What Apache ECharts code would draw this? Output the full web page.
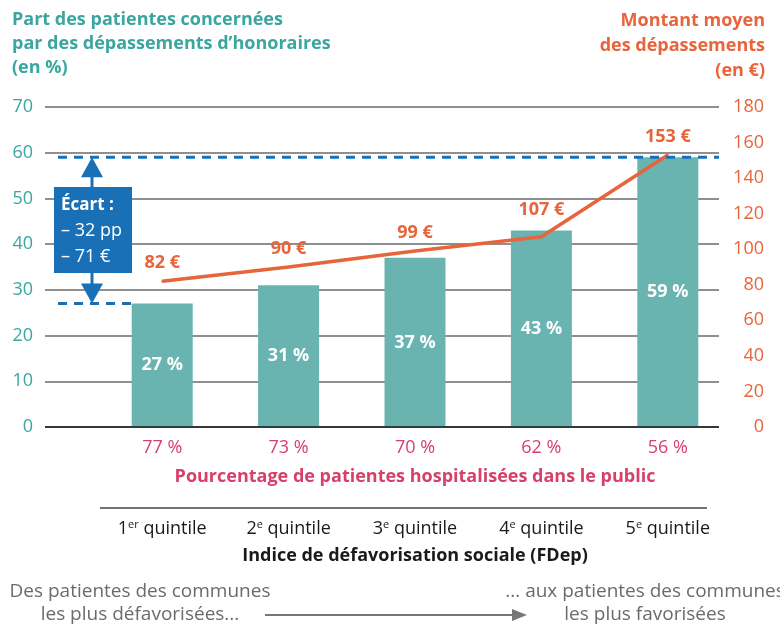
<!DOCTYPE html>
<html>
<head>
<meta charset="utf-8">
<script src="https://cdn.jsdelivr.net/npm/echarts@6/dist/echarts.min.js"></script>
<style>
  html, body { margin: 0; padding: 0; background: #fff; }
  #chart { width: 780px; height: 625px; }
</style>
</head>
<body>
<div id="chart"></div>
<script>
// données
var quintiles = ['1er', '2e', '3e', '4e', '5e'];
var partPatientes = [27, 31, 37, 43, 59];        // %
var montantMoyen = [82, 90, 99, 107, 153];       // €
var partPublic = [77, 73, 70, 62, 56];           // % hospitalisées dans le public
var ecartLignes = ['Écart :', '– 32 pp', '– 71 €'];

var TEAL = '#3ba6a0';
var ORANGE = '#e8643a';
var PINK = '#d8406b';
var BLUE = '#1a70b6';
var FONT = '"Open Sans", "Noto Sans", sans-serif';

var chartDom = document.getElementById('chart');
var myChart = echarts.init(chartDom);

function quintileLabel(v) {
  var num = v.charAt(0);
  var sup = v.slice(1);
  return '{n|' + num + '}{s|' + sup + '}{n| quintile}';
}

var option = {
  animation: false,
  textStyle: { fontFamily: FONT },
  grid: [
    { left: 45, right: 61, top: 107, bottom: 198 },
    { left: 99, right: 49, top: 107, bottom: 198 }
  ],
  xAxis: [
    { gridIndex: 0, type: 'value', min: 0, max: 1, show: false },
    {
      gridIndex: 1, type: 'category', data: quintiles,
      position: 'bottom', offset: 84,
      axisLine: { show: false }, axisTick: { show: false },
      axisLabel: {
        margin: 8, interval: 0,
        formatter: quintileLabel,
        rich: {
          n: { fontSize: 18, color: '#1a1a1a', fontFamily: FONT, lineHeight: 20 },
          s: { fontSize: 11, color: '#1a1a1a', fontFamily: FONT, verticalAlign: 'top', lineHeight: 20, padding: [0, 0, 8, 0] }
        }
      },
      name: 'Indice de défavorisation sociale (FDep)',
      nameLocation: 'middle', nameGap: 36,
      nameTextStyle: { fontSize: 18, fontWeight: 'bold', color: '#1a1a1a', fontFamily: FONT }
    },
    {
      gridIndex: 1, type: 'category', data: partPublic,
      position: 'bottom', offset: 0,
      axisLine: { show: false }, axisTick: { show: false },
      axisLabel: {
        margin: 12, fontSize: 18, interval: 0, color: PINK, fontFamily: FONT,
        formatter: function (v) { return v + ' %'; }
      },
      name: 'Pourcentage de patientes hospitalisées dans le public',
      nameLocation: 'middle', nameGap: 41,
      nameTextStyle: { fontSize: 18, fontWeight: 'bold', color: PINK, fontFamily: FONT }
    }
  ],
  yAxis: [
    {
      gridIndex: 0, type: 'value', min: 0, max: 70, interval: 10,
      axisLine: { show: false }, axisTick: { show: false },
      axisLabel: { color: TEAL, fontSize: 18, margin: 12, fontFamily: FONT },
      splitLine: { lineStyle: { color: '#6a6a6a', width: 1.5 } }
    },
    {
      gridIndex: 0, type: 'value', min: 0, max: 180, interval: 20, position: 'right',
      axisLine: { show: false }, axisTick: { show: false },
      axisLabel: { color: ORANGE, fontSize: 18, margin: 45, align: 'right', fontFamily: FONT },
      splitLine: { show: false }
    },
    { gridIndex: 1, type: 'value', min: 0, max: 70, show: false },
    { gridIndex: 1, type: 'value', min: 0, max: 180, show: false }
  ],
  series: [
    {
      type: 'bar',
      xAxisIndex: 1,
      yAxisIndex: 2,
      barWidth: 61,
      data: partPatientes,
      itemStyle: { color: '#69b4b1' },
      label: {
        show: true, position: 'inside',
        color: '#fff', fontSize: 18, fontWeight: 'bold', fontFamily: FONT,
        formatter: '{c} %'
      },
      z: 3
    },
    {
      type: 'line',
      xAxisIndex: 1,
      yAxisIndex: 3,
      data: montantMoyen.map(function (v, i) {
        return { value: v, label: { distance: i === 3 ? 17 : 8 } };
      }),
      showSymbol: true,
      symbol: 'circle',
      symbolSize: 2,
      itemStyle: { color: ORANGE },
      lineStyle: { color: ORANGE, width: 3.5 },
      label: {
        show: true, position: 'top',
        color: ORANGE, fontSize: 18, fontWeight: 'bold', fontFamily: FONT,
        formatter: '{c} €'
      },
      labelLayout: { hideOverlap: false },
      z: 5
    }
  ]
};

myChart.setOption(option);

// éléments graphiques: titres, écart, flèches
var yTop = myChart.convertToPixel({ yAxisIndex: 0 }, partPatientes[partPatientes.length - 1]);
var yBot = myChart.convertToPixel({ yAxisIndex: 0 }, partPatientes[0]);
var y0 = myChart.convertToPixel({ yAxisIndex: 0 }, 0);
var arrowX = 92;
var boxTop = 187, boxBottom = 273;

myChart.setOption({
  graphic: [
    // axe du bas plus foncé
    { type: 'line', shape: { x1: 45, y1: y0, x2: 719, y2: y0 }, style: { stroke: '#1a1a1a', lineWidth: 1.5 }, z: 4 },
    // titres
    {
      type: 'text', x: 12, y: 8,
      style: {
        text: 'Part des patientes concernées\npar des dépassements d’honoraires\n(en %)',
        fill: TEAL, font: 'bold 18px ' + FONT, lineHeight: 24
      }
    },
    {
      type: 'text', x: 765, y: 8,
      style: {
        text: 'Montant moyen\ndes dépassements\n(en €)',
        fill: ORANGE, font: 'bold 18px ' + FONT, lineHeight: 25, align: 'right'
      }
    },
    // lignes pointillées
    { type: 'line', shape: { x1: 58, y1: yTop, x2: 719, y2: yTop }, style: { stroke: BLUE, lineWidth: 3, lineDash: [9, 7] }, z: 6 },
    { type: 'line', shape: { x1: 58, y1: yBot, x2: 131, y2: yBot }, style: { stroke: BLUE, lineWidth: 3, lineDash: [9, 7] }, z: 6 },
    // flèche double
    { type: 'line', shape: { x1: arrowX, y1: yTop + 18, x2: arrowX, y2: yBot - 18 }, style: { stroke: BLUE, lineWidth: 3 }, z: 6 },
    { type: 'polygon', shape: { points: [[arrowX, yTop], [arrowX - 11, yTop + 20], [arrowX + 11, yTop + 20]] }, style: { fill: BLUE }, z: 6 },
    { type: 'polygon', shape: { points: [[arrowX, yBot], [arrowX - 11, yBot - 20], [arrowX + 11, yBot - 20]] }, style: { fill: BLUE }, z: 6 },
    // boîte écart
    { type: 'rect', shape: { x: 54, y: boxTop, width: 78, height: boxBottom - boxTop }, style: { fill: BLUE }, z: 7 },
    {
      type: 'text', x: 61, y: boxTop + 5, z: 8,
      style: {
        text: '{b|' + ecartLignes[0] + '}\n{r|' + ecartLignes[1] + '}\n{r|' + ecartLignes[2] + '}',
        rich: {
          b: { fill: '#fff', font: 'bold 17px ' + FONT, lineHeight: 26 },
          r: { fill: '#fff', font: '18px ' + FONT, lineHeight: 26 }
        }
      }
    },
    // ligne séparatrice
    { type: 'line', shape: { x1: 100, y1: 508, x2: 707, y2: 508 }, style: { stroke: '#444', lineWidth: 1.5 } },
    // textes du bas
    {
      type: 'text', x: 140, y: 580,
      style: {
        text: 'Des patientes des communes\nles plus défavorisées...',
        fill: '#6b6b6b', font: '19px ' + FONT, lineHeight: 23, align: 'center'
      }
    },
    {
      type: 'text', x: 645, y: 580,
      style: {
        text: '... aux patientes des communes\nles plus favorisées',
        fill: '#6b6b6b', font: '19px ' + FONT, lineHeight: 23, align: 'center'
      }
    },
    { type: 'line', shape: { x1: 265, y1: 615, x2: 515, y2: 615 }, style: { stroke: '#777', lineWidth: 2 } },
    { type: 'polygon', shape: { points: [[527, 615], [512, 609], [512, 621]] }, style: { fill: '#777' } }
  ]
});
</script>
</body>
</html>
